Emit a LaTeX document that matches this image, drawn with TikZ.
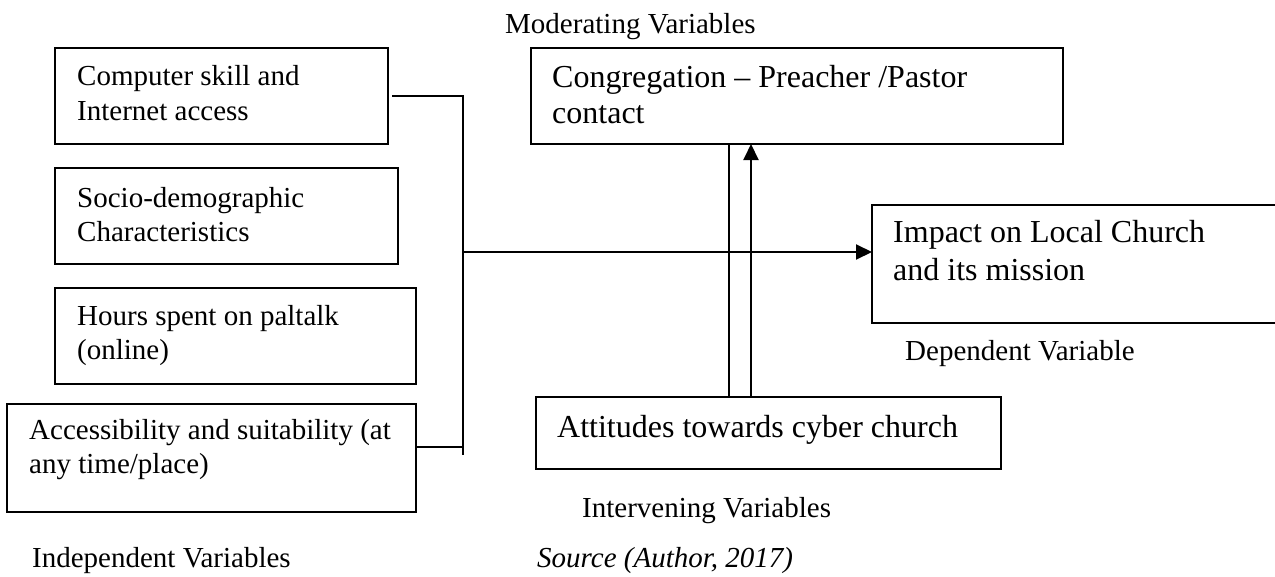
\documentclass[tikz,border=0pt]{standalone}
\usepackage{fontspec}
\setmainfont{Liberation Serif}
\usetikzlibrary{arrows.meta,calc}
\tikzset{
  box/.style={draw, line width=1.6pt, inner sep=0pt, outer sep=0pt, anchor=north west},
  smalltxt/.style={anchor=base west, inner sep=0pt, font=\fontsize{29}{34}\selectfont},
  bigtxt/.style={anchor=base west, inner sep=0pt, font=\fontsize{32}{37}\selectfont},
  conn/.style={line width=2pt},
  arr/.style={line width=2pt, -{Triangle[length=16pt,width=15pt]}}
}
\begin{document}
\begin{tikzpicture}[x=1pt,y=-1pt]
\useasboundingbox (0,0) rectangle (1275,576);
\clip (0,0) rectangle (1275,576);
% independent variable boxes
\node[box, minimum width=333pt, minimum height=96pt] (b1) at (55,48) {};
\node[smalltxt] (t1a) at (77,85) {Computer skill and};
\node[smalltxt] (t1b) at (77,120) {Internet access};
\node[box, minimum width=343pt, minimum height=96pt] (b2) at (55,168) {};
\node[smalltxt] (t2a) at (77,207) {Socio-demographic};
\node[smalltxt] (t2b) at (77,241) {Characteristics};
\node[box, minimum width=361pt, minimum height=96pt] (b3) at (55,288) {};
\node[smalltxt] (t3a) at (77,325) {Hours spent on paltalk};
\node[smalltxt] (t3b) at (77,359) {(online)};
\node[box, minimum width=409pt, minimum height=108pt] (b4) at (7,404) {};
\node[smalltxt] (t4a) at (29,439) {Accessibility and suitability (at};
\node[smalltxt] (t4b) at (29,473) {any time/place)};
\node[smalltxt] (lind) at (32,567) {Independent Variables};
% moderating
\node[smalltxt] (lmod) at (505,33) {Moderating Variables};
\node[box, minimum width=532pt, minimum height=96pt] (mod) at (531,48) {};
\node[bigtxt] (tma) at (552,87) {Congregation -- Preacher /Pastor};
\node[bigtxt] (tmb) at (552,123) {contact};
% dependent
\node[box, minimum width=420pt, minimum height=118pt] (imp) at (872,205) {};
\node[bigtxt] (tia) at (893,242) {Impact on Local Church};
\node[bigtxt] (tib) at (893,280) {and its mission};
\node[smalltxt] (ldep) at (905,360) {Dependent Variable};
% intervening
\node[box, minimum width=465pt, minimum height=72pt] (att) at (536,397) {};
\node[bigtxt] (tat) at (557,437) {Attitudes towards cyber church};
\node[smalltxt] (lint) at (582,517) {Intervening Variables};
\node[smalltxt, font=\fontsize{29}{34}\selectfont\itshape] (lsrc) at (537,567) {Source (Author, 2017)};
% connectors
\coordinate (bt) at (463,96);
\coordinate (bb) at (463,455);
\coordinate (bm) at (463,252);
\coordinate (b4c) at ([yshift=11pt]b4.east);
\draw[conn] ([xshift=4pt]b1.east) -- (bt) -- (bb);
\draw[conn] (b4c) -- (bb |- b4c);
\draw[arr] (bm) -- (bm -| imp.west);
\draw[conn] (729,0 |- mod.south) -- (729,0 |- att.north);
\draw[arr] (751,0 |- att.north) -- (751,0 |- mod.south);
\end{tikzpicture}
\end{document}
